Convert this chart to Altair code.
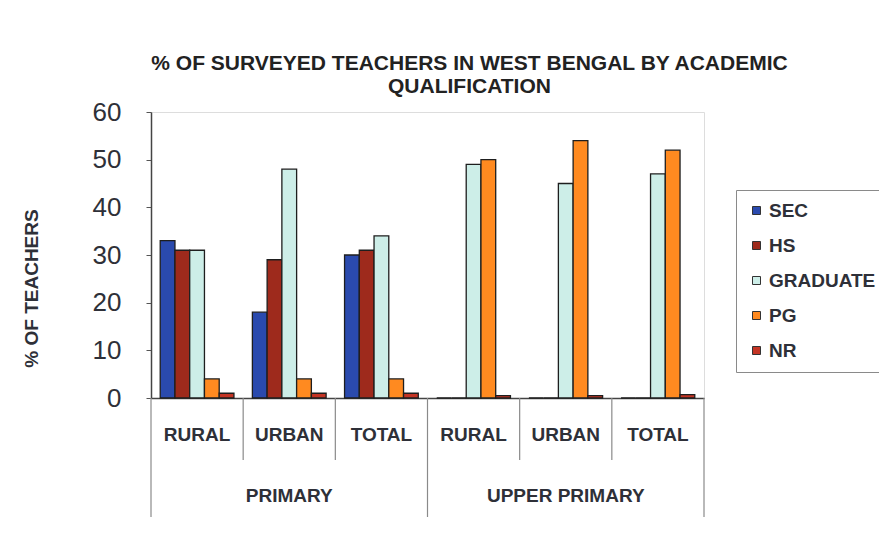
import altair as alt
import pandas as pd

# ---- data ----
levels = ["PRIMARY", "PRIMARY", "PRIMARY", "UPPER PRIMARY", "UPPER PRIMARY", "UPPER PRIMARY"]
areas = ["RURAL", "URBAN", "TOTAL", "RURAL", "URBAN", "TOTAL"]
series = ["SEC", "HS", "GRADUATE", "PG", "NR"]
sec = [33, 18, 30, 0, 0, 0]
hs = [31, 29, 31, 0, 0, 0]
graduate = [31, 48, 34, 49, 45, 47]
pg = [4, 4, 4, 50, 54, 52]
nr = [1, 1, 1, 0.5, 0.5, 0.7]
colors = ["#2a4aae", "#9e2a1c", "#cdeee8", "#ff8a20", "#c43424"]
group_labels = ["PRIMARY", "UPPER PRIMARY"]

values = {"SEC": sec, "HS": hs, "GRADUATE": graduate, "PG": pg, "NR": nr}
cats = [f"{l}|{a}" for l, a in zip(levels, areas)]
rows = []
for s in series:
    for c, v in zip(cats, values[s]):
        rows.append({"cat": c, "series": s, "value": v, "order": series.index(s)})
df = pd.DataFrame(rows)

FONT = "Liberation Sans"
W, H = 553, 286

bars = alt.Chart(df).mark_bar(stroke="#1e1e1e", strokeWidth=1.3).encode(
    x=alt.X("cat:N", sort=cats,
            scale=alt.Scale(paddingInner=0.2, paddingOuter=0.1),
            axis=alt.Axis(title=None, labelExpr="split(datum.value, '|')[1]",
                          labelAngle=0, ticks=False, tickSize=0, labelPadding=27,
                          labelFontSize=19, labelFont=FONT, labelFontWeight="bold",
                          labelColor="#2e3038", domainColor="#444", domainWidth=1.5)),
    xOffset=alt.XOffset("series:N", sort=series, scale=alt.Scale(paddingInner=0, paddingOuter=0)),
    y=alt.Y("value:Q", scale=alt.Scale(domain=[0, 60], nice=False),
            axis=alt.Axis(values=[0, 10, 20, 30, 40, 50, 60], grid=False, tickSize=5,
                          tickColor="#555", domainColor="#444", domainWidth=1.5,
                          labelFontSize=26, labelFont=FONT, labelColor="#2e3038",
                          labelPadding=25,
                          title="% OF TEACHERS", titleFont=FONT, titleFontSize=19,
                          titleFontWeight="bold", titleColor="#2e3038",
                          titleAngle=270, titleX=-110, titleY=176)),
    color=alt.Color("series:N", sort=series,
                    scale=alt.Scale(domain=series, range=colors),
                    legend=alt.Legend(title=None, orient="none", legendX=585, legendY=78,
                                      padding=11, rowPadding=15, symbolType="square",
                                      symbolSize=64, symbolStrokeColor="#333",
                                      symbolStrokeWidth=1, labelFont=FONT,
                                      labelFontSize=19, labelFontWeight="bold",
                                      labelColor="#2e3038", labelOffset=3,
                                      strokeColor="#8a8a8a", fillColor="white")),
    order=alt.Order("order:Q"),
)

# separators under the x axis
sep_x = [0, 1, 2, 3, 4, 5, 6]
sep_len = [119, 62, 62, 119, 62, 62, 119]
sep_df = pd.DataFrame({"x": sep_x, "y1": [H] * 7, "y2": [H + l for l in sep_len]})
xlin = alt.Scale(domain=[0, 6], range=[0, W], nice=False, zero=False)
seps = alt.Chart(sep_df).mark_rule(color="#8a8a8a", strokeWidth=1.2).encode(
    x=alt.X("x:Q", scale=xlin, axis=None),
    y=alt.Y("y1:Q", scale=None),
    y2="y2:Q",
)

grp_df = pd.DataFrame({"x": [1.5, 4.5], "label": group_labels, "y": [H + 98] * 2})
grp = alt.Chart(grp_df).mark_text(font=FONT, fontSize=19, fontWeight="bold",
                                  color="#2e3038", baseline="middle").encode(
    x=alt.X("x:Q", scale=xlin, axis=None),
    y=alt.Y("y:Q", scale=None),
    text="label:N",
)

chart = alt.layer(bars, seps, grp).resolve_scale(x="independent").properties(
    width=W, height=H,
    title=alt.TitleParams(["% OF SURVEYED TEACHERS IN WEST BENGAL BY ACADEMIC", "QUALIFICATION"],
                          font=FONT, fontSize=21, fontWeight="bold", color="#222",
                          anchor="middle", dx=42, offset=2, lineHeight=23),
    autosize=alt.AutoSizeParams(type="none"),
    padding={"left": 143, "top": 104, "right": 175, "bottom": 122},
).configure_view(stroke="#9a9a9a", strokeWidth=1.2).configure(background="white")

chart.save("out.html", embed_options={"renderer": "svg", "actions": False})
